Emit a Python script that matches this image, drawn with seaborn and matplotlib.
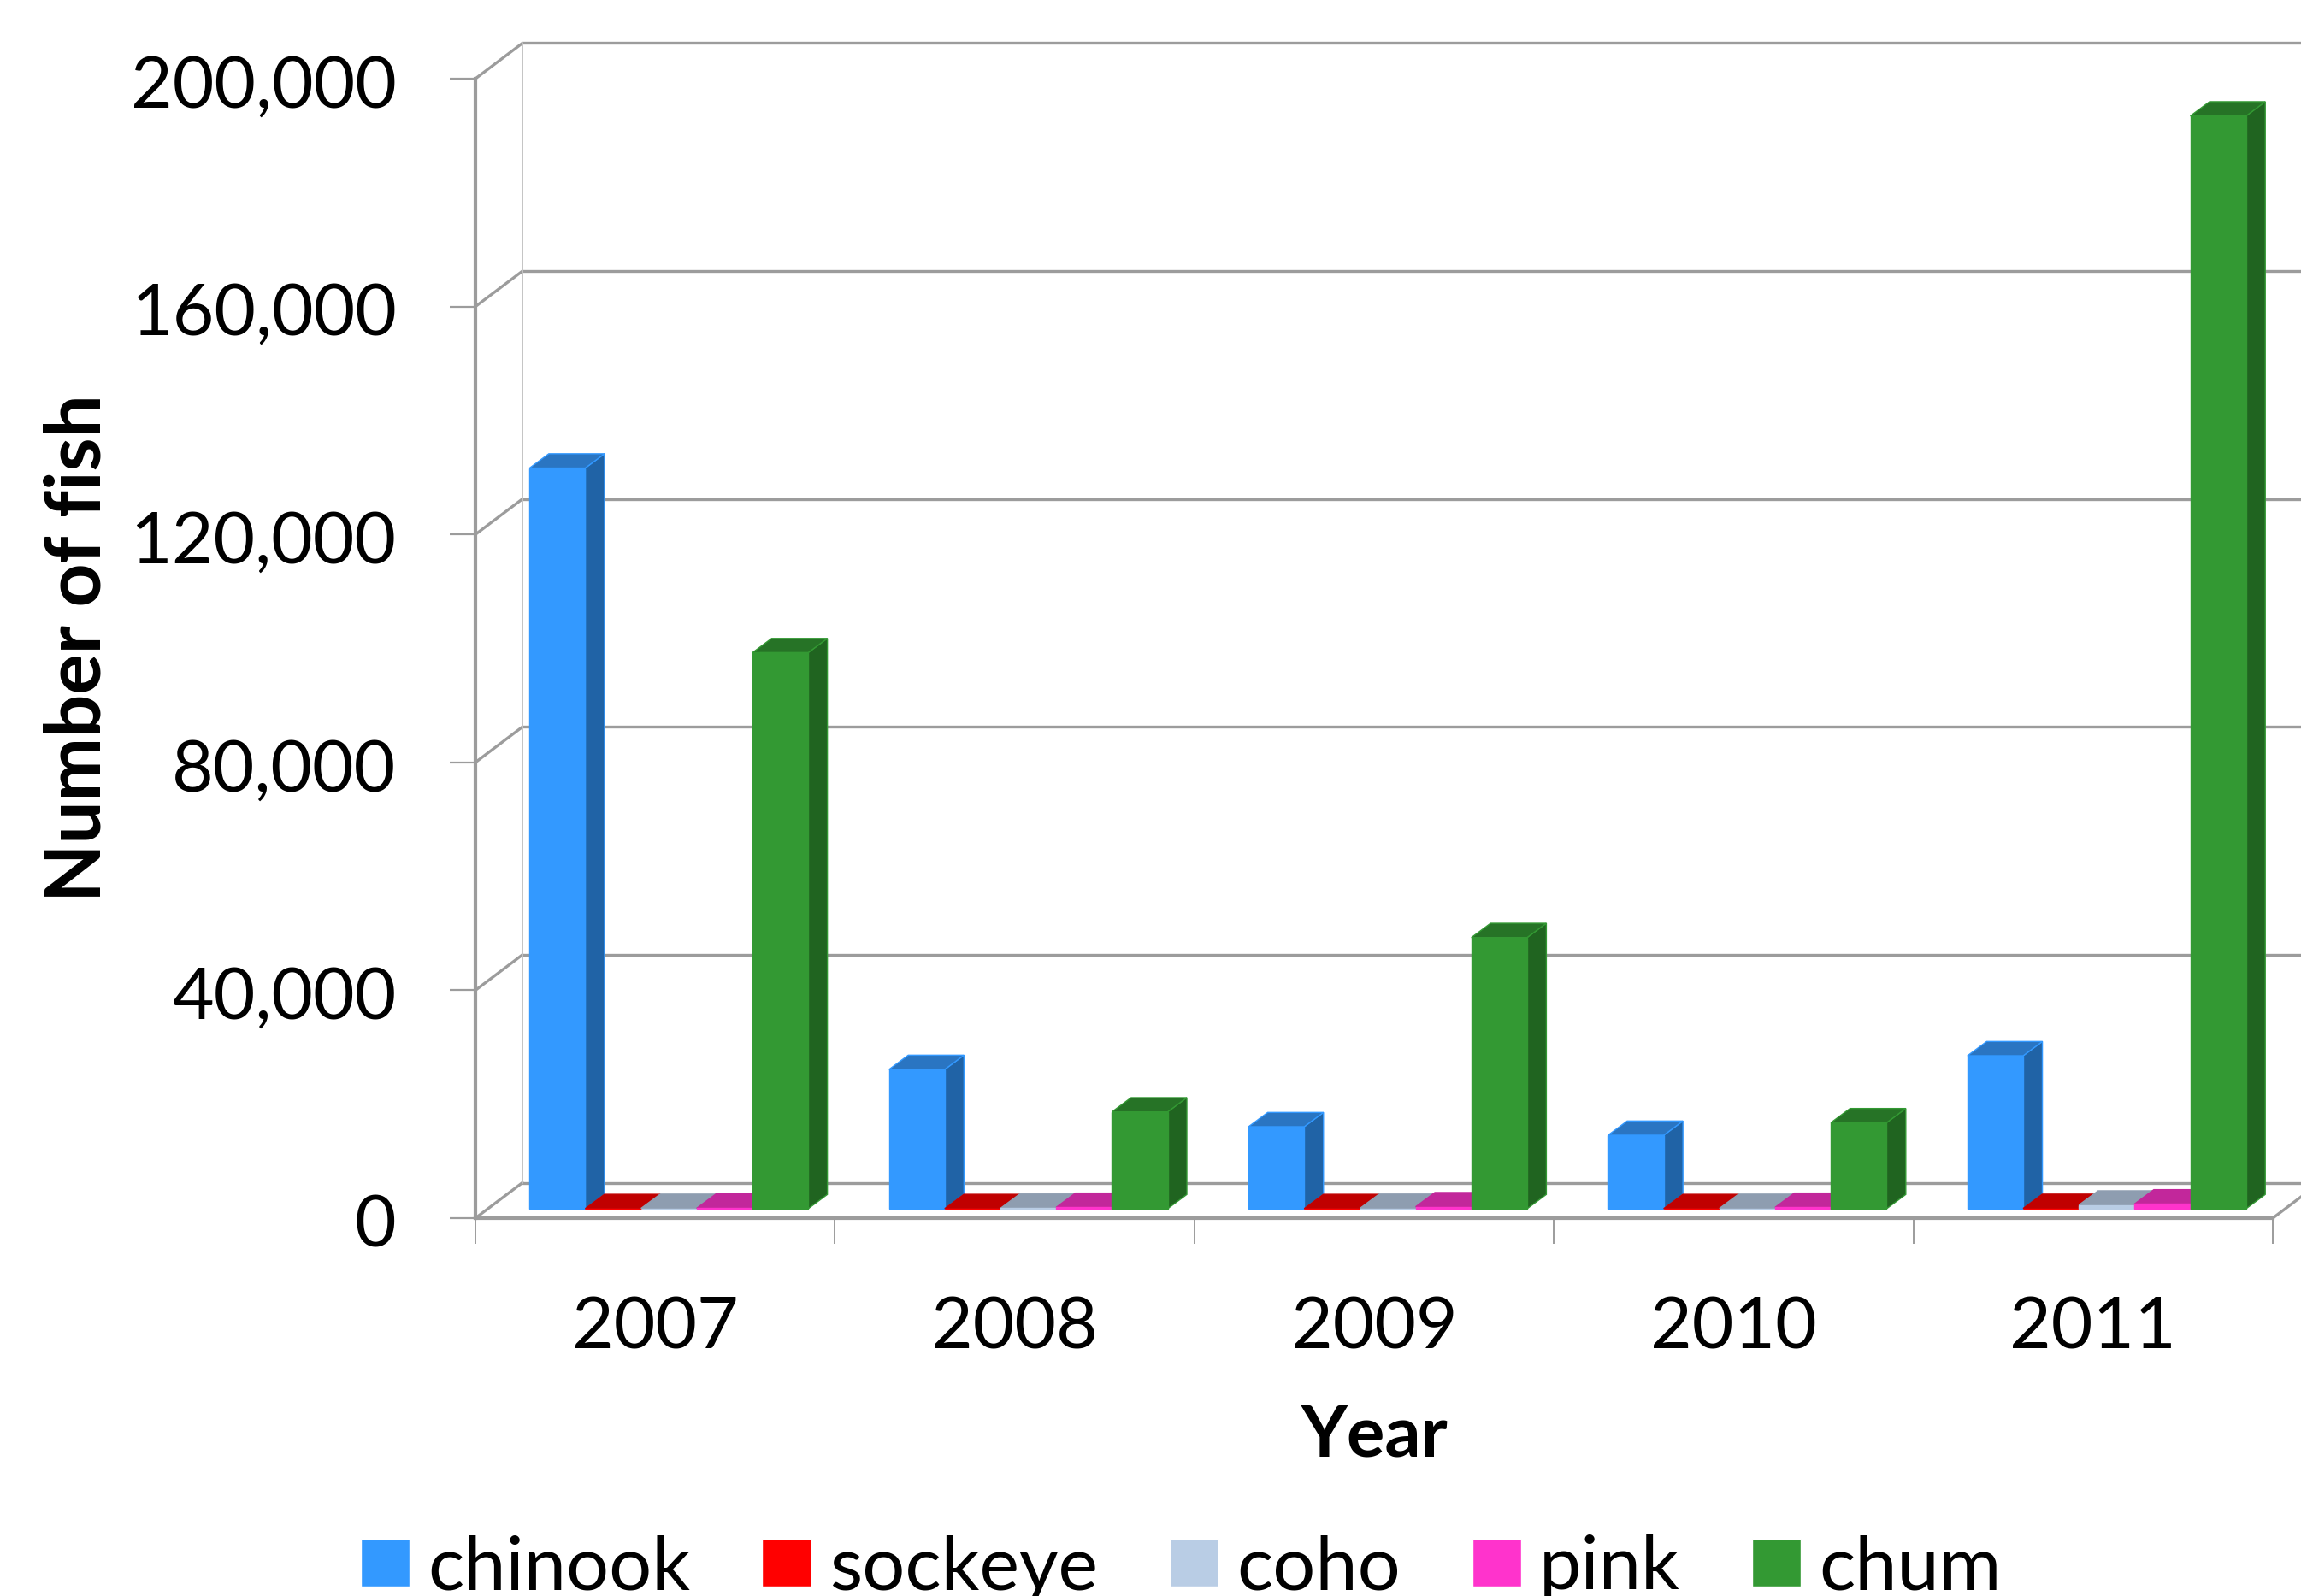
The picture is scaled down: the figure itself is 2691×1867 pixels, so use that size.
import pandas as pd
import matplotlib.pyplot as plt
from matplotlib.patches import Polygon
from matplotlib.transforms import Affine2D
import seaborn as sns

# values
years = ["2007", "2008", "2009", "2010", "2011"]
species = ["chinook", "sockeye", "coho", "pink", "chum"]
chinook = [130000, 24450, 14400, 12900, 26850]
sockeye = [30, 30, 30, 30, 60]
coho = [60, 80, 70, 60, 650]
pink = [90, 250, 350, 250, 850]
chum = [97600, 17000, 47600, 15100, 191800]
y_ticks = [0, 40000, 80000, 120000, 160000, 200000]

front_colors = ["#3399FF", "#FF0000", "#B9CDE5", "#FF33CC", "#339933"]
side_colors = ["#2063A6", "#A60000", "#78858F", "#A6217F", "#206420"]
top_colors = ["#2A75C2", "#C00000", "#8E9DB0", "#C2279B", "#267326"]
line_gray = "#9C9C9C"

W, H = 2691, 1867


def main():
    sns.set_theme(style="white")
    plt.rcParams["font.family"] = ["Lato", "DejaVu Sans"]

    fig = plt.figure(figsize=(W / 100, H / 100), dpi=100, facecolor="white")
    ax = fig.add_axes([556 / W, 1 - 1425 / H, 2102 / W, 1333 / H])

    df = pd.DataFrame({
        "year": years * 5,
        "species": [s for s in species for _ in years],
        "fish": chinook + sockeye + coho + pink + chum,
    })
    sns.barplot(data=df, x="year", y="fish", hue="species", hue_order=species,
                palette=front_colors, width=0.775, gap=0, saturation=1, ax=ax)
    handles, labels = ax.get_legend_handles_labels()

    ax.set_xlim(-0.5, 4.5)
    ax.set_ylim(0, 200000)
    per_cat = 2102 / 5
    per_fish = 1333 / 200000

    # back wall and its connecting lines
    wall_dx = 55 / per_cat
    wall_dy = 41.5 / per_fish
    for v in y_ticks:
        ax.plot([-0.5 + wall_dx, 5.0], [v + wall_dy, v + wall_dy], color=line_gray,
                lw=2.4, clip_on=False, zorder=1)
        ax.plot([-0.5, -0.5 + wall_dx], [v, v + wall_dy], color=line_gray,
                lw=2.4, clip_on=False, zorder=1)
    ax.plot([4.5, 4.5 + wall_dx], [0, wall_dy], color=line_gray, lw=2.4, clip_on=False, zorder=1)
    ax.plot([-0.5 + wall_dx] * 2, [wall_dy, 200000 + wall_dy], color="#C4C4C4",
            lw=1.4, clip_on=False, zorder=1)

    # bars stand a little way into the floor
    shift = ax.transData + Affine2D().translate(16, 11)
    bar_dx = 22.5 / per_cat
    bar_dy = 16.7 / per_fish
    for s, (cont, side, top, front) in enumerate(zip(ax.containers, side_colors, top_colors, front_colors)):
        for i, bar in enumerate(cont):
            x0, x1 = bar.get_x(), bar.get_x() + bar.get_width()
            h = bar.get_height()
            z = 10 + i * 10 + s * 2
            bar.set_transform(shift)
            bar.set_clip_on(False)
            bar.set_edgecolor(front)
            bar.set_linewidth(1)
            bar.set_zorder(z)
            ax.add_artist(Polygon([(x1, 0), (x1 + bar_dx, bar_dy), (x1 + bar_dx, h + bar_dy), (x1, h)],
                                  facecolor=side, edgecolor=front, lw=1, transform=shift,
                                  clip_on=False, zorder=z - 1))
            ax.add_artist(Polygon([(x0, h), (x0 + bar_dx, h + bar_dy), (x1 + bar_dx, h + bar_dy), (x1, h)],
                                  facecolor=top, edgecolor=front if h > 5000 else top, lw=1,
                                  transform=shift, clip_on=False, zorder=z - 1))

    sns.despine(ax=ax)
    for name in ["left", "bottom"]:
        ax.spines[name].set_color(line_gray)
        ax.spines[name].set_linewidth(3)
        ax.spines[name].set_zorder(5)

    ax.set_yticks(y_ticks)
    ax.set_yticklabels([f"{v:,}" for v in y_ticks])
    ax.tick_params(axis="y", left=True, length=21.6, width=1.6, color=line_gray,
                   pad=45, labelsize=60.5, labelcolor="black")
    for lab in ax.get_yticklabels():
        lab.set_transform(lab.get_transform() + Affine2D().translate(0, -3))
    ax.set_xticks([-0.5, 0.5, 1.5, 2.5, 3.5, 4.5], minor=True)
    ax.tick_params(axis="x", which="minor", bottom=True, length=21.6, width=1.4, color=line_gray)
    ax.tick_params(axis="x", which="major", bottom=False, length=0, pad=66,
                   labelsize=60.5, labelcolor="black")

    ax.set_xlabel("Year", fontsize=60, fontweight="bold", color="black", va="center")
    ax.set_ylabel("Number of fish", fontsize=64, fontweight="bold", color="black", va="center")
    ax.xaxis.set_label_coords(0.5, -(1680 - 1425) / 1333)
    ax.yaxis.set_label_coords((92 - 556) / 2102, 0.5)

    ax.legend(handles, labels, ncols=5, frameon=False, fontsize=63.5, labelcolor="black",
              loc="center left", bbox_to_anchor=(422 / W, 1 - 1835 / H),
              bbox_transform=fig.transFigure, handlelength=0.65, handleheight=0.61,
              handletextpad=0.24, columnspacing=0.95, borderpad=0, borderaxespad=0)

    fig.savefig("out.png", dpi=100)


if __name__ == "__main__":
    main()
